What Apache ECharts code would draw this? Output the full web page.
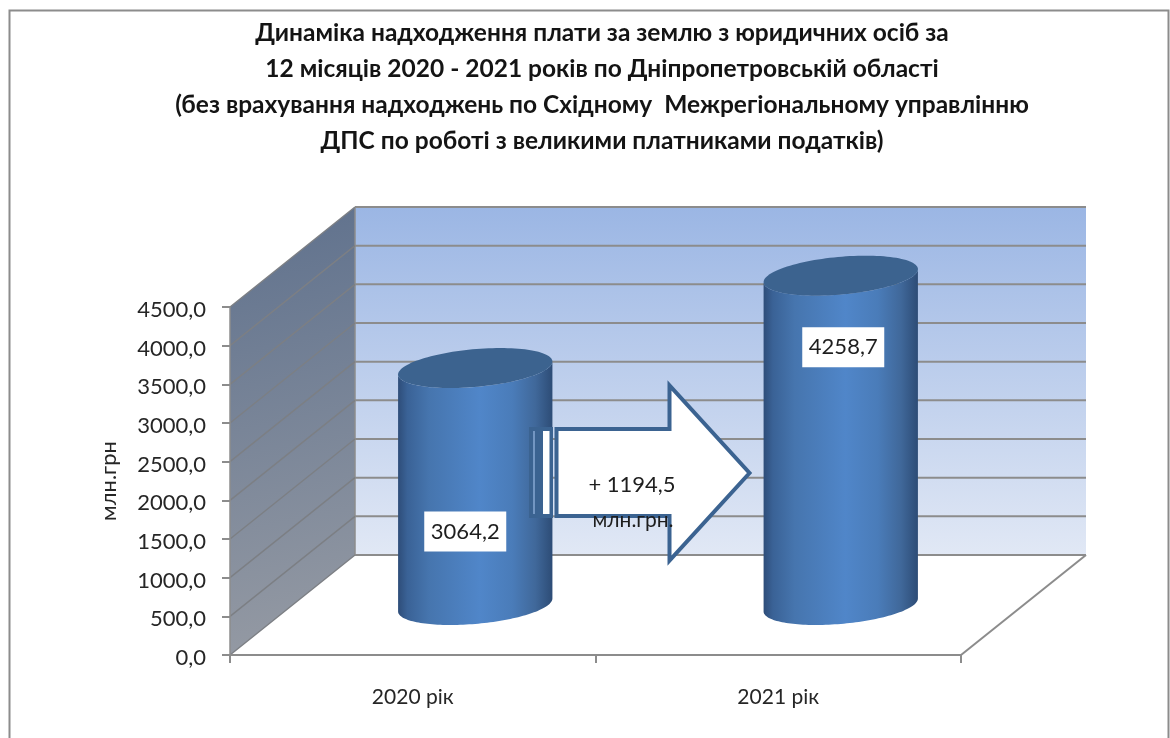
<!DOCTYPE html>
<html><head><meta charset="utf-8">
<style>html,body{margin:0;padding:0;background:#fff}#c{width:1170px;height:738px}</style>
<script src="https://cdn.jsdelivr.net/npm/echarts@6/dist/echarts.min.js"></script>
</head><body><div id="c"></div>
<script>
const categories = ['2020 рік', '2021 рік'];
const values = [3064.2, 4258.7];
const yTicks = [0, 500, 1000, 1500, 2000, 2500, 3000, 3500, 4000, 4500];
const titleLines = [
  'Динаміка надходження плати за землю з юридичних осіб за',
  '12 місяців 2020 - 2021 років по Дніпропетровській області',
  '(без врахування надходжень по Східному  Межрегіональному управлінню',
  'ДПС по роботі з великими платниками податків)'
];
const deltaLines = ['+ 1194,5', 'млн.грн.'];
const yName = 'млн.грн';

// layout (3-D projection and decoration)
const DX = 125, DY = -100;         // depth vector of the box
const FILL = 0.2;                  // elliptical depth of the cylinder
const RX = 73;
const labelShift = [[-10, 45], [2.5, -93]];
const fmt = v => v.toFixed(1).replace('.', ',');
const FONT = 'Lato, "Noto Sans", sans-serif';
const GRID = '#8c8c8c';

const chart = echarts.init(document.getElementById('c'), null, {renderer: 'canvas'});

function wallsItem(params, api) {
  const tick = api.value(0);
  const c = api.coord([0, tick]);
  const rect = params.coordSys;
  const x0 = rect.x, x1 = rect.x + rect.width;
  const y0 = rect.y, y1 = rect.y + rect.height;
  const kids = [];
  if (params.dataIndex === 0) {
    kids.push({type: 'polygon', shape: {points: [[x0, y1], [x0 + DX, y1 + DY], [x0 + DX, y0 + DY], [x0, y0]]},
      style: {fill: new echarts.graphic.LinearGradient(0.9, 1, 0.1, 0, [
        {offset: 0, color: '#969ba4'}, {offset: 1, color: '#5f718d'}])}});
    kids.push({type: 'rect', shape: {x: x0 + DX, y: y0 + DY, width: x1 - x0, height: y1 - y0},
      style: {fill: new echarts.graphic.LinearGradient(0, 0, 0, 1, [
        {offset: 0, color: '#9bb6e4'}, {offset: 1, color: '#e1e8f5'}])}});
    kids.push({type: 'polyline', shape: {points: [[x0 + DX, y1 + DY], [x0 + DX, y0 + DY]]},
      style: {stroke: GRID, lineWidth: 1.5, fill: 'none'}});
    kids.push({type: 'polyline', shape: {points: [[x1, y1], [x1 + DX, y1 + DY]]},
      style: {stroke: GRID, lineWidth: 2, fill: 'none'}});
  }
  kids.push({type: 'polyline', shape: {points: [[x0, c[1]], [x0 + DX, c[1] + DY]]},
    style: {stroke: '#7c7f84', lineWidth: 1.5, fill: 'none'}});
  kids.push({type: 'polyline', shape: {points: [[x0 + DX, c[1] + DY], [x1 + DX, c[1] + DY]]},
    style: {stroke: GRID, lineWidth: 2, fill: 'none'}});
  return {type: 'group', children: kids};
}

function ell(cx, cy, a, b, from, to, n) {
  const pts = [];
  for (let i = 0; i <= n; i++) {
    const t = from + (to - from) * i / n;
    pts.push([cx + a * Math.cos(t) + b * DX * Math.sin(t), cy + b * DY * Math.sin(t)]);
  }
  return pts;
}

function cylinderItem(params, api) {
  const cat = api.value(0), val = api.value(1);
  const base = api.coord([cat, 0]), top = api.coord([cat, val]);
  const cx = base[0] + DX / 2;
  const by = base[1] + DY / 2, ty = top[1] + DY / 2;
  const t0 = Math.atan2(FILL * DX, RX);
  const bottomArc = ell(cx, by, RX, FILL, t0, t0 - Math.PI, 80);
  const bodyTop = ell(cx, ty, RX, FILL, t0 - Math.PI, t0, 80);
  const body = bottomArc.concat(bodyTop);
  const side = new echarts.graphic.LinearGradient(0, 0, 1, 0, [
    {offset: 0, color: '#2e4d79'}, {offset: 0.06, color: '#3a6296'}, {offset: 0.2, color: '#4675ae'},
    {offset: 0.53, color: '#5086c9'}, {offset: 0.74, color: '#4a7cb9'}, {offset: 0.89, color: '#40689a'},
    {offset: 1, color: '#2d4c76'}]);
  const s = labelShift[params.dataIndex];
  return {type: 'group', children: [
    {type: 'polygon', shape: {points: body}, style: {fill: side}},
    {type: 'polygon', shape: {points: ell(cx, ty, RX, FILL, 0, Math.PI * 2, 120)}, style: {fill: '#3c638f'}},
    {type: 'rect', z2: 5, shape: {x: cx + s[0] - 41, y: (by + ty) / 2 + s[1] - 20, width: 82, height: 40}, style: {fill: '#fff'}},
    {type: 'text', z2: 6, style: {x: cx + s[0], y: (by + ty) / 2 + s[1], text: fmt(val), align: 'center', verticalAlign: 'middle',
      font: '22px ' + FONT, fill: '#1e1e1e'}}
  ]};
}

const AC = '#3b6391';
chart.setOption({
  animation: false,
  backgroundColor: '#fff',
  grid: {left: 230, right: 209, top: 307, bottom: 83, containLabel: false},
  xAxis: {type: 'category', data: categories, z: 5,
    axisLine: {lineStyle: {color: '#8c8c8c', width: 2}},
    axisTick: {show: true, alignWithLabel: false, length: 8, lineStyle: {color: '#8c8c8c', width: 2}},
    axisLabel: {color: '#262626', fontSize: 21, fontFamily: FONT, margin: 32}},
  yAxis: {type: 'value', min: 0, max: 4500, interval: 500, z: 5,
    name: yName, nameLocation: 'middle', nameGap: 110, nameRotate: 90,
    nameTextStyle: {color: '#262626', fontSize: 22, fontFamily: FONT},
    axisLine: {show: true, lineStyle: {color: '#8c8c8c', width: 1.5}},
    axisTick: {show: true, length: 8, lineStyle: {color: '#8c8c8c', width: 2}},
    splitLine: {show: false},
    axisLabel: {color: '#262626', fontSize: 22, fontFamily: FONT, margin: 24, verticalAlign: 'top', lineHeight: 6, formatter: v => fmt(v)}},
  title: {text: titleLines.join('\n'), left: 597, top: 10, textAlign: 'center',
    textStyle: {fontFamily: FONT, fontWeight: 'bold', fontSize: 24.5, lineHeight: 36, color: '#141414'}},
  series: [
    {type: 'custom', name: 'walls', data: yTicks.map(t => [t]), encode: {y: 0}, renderItem: wallsItem, silent: true, z: 1},
    {type: 'custom', name: 'млн.грн', data: values.map((v, i) => [i, v]), encode: {x: 0, y: 1}, renderItem: cylinderItem, silent: true, z: 2}
  ],
  graphic: [
    {type: 'rect', z: 100, shape: {x: 9.5, y: 10.5, width: 1159, height: 760}, style: {fill: 'none', stroke: '#8c8c8c', lineWidth: 2}},
    {type: 'polygon', z: 100, shape: {points: [[556.5, 429], [669.5, 429], [669.5, 385.5], [749.5, 473], [669.5, 560.5], [669.5, 516], [556.5, 516]]},
      style: {fill: '#fff', stroke: AC, lineWidth: 4, lineJoin: 'miter'}},
    {type: 'rect', z: 100, shape: {x: 531, y: 429, width: 20, height: 87}, style: {fill: AC, stroke: AC, lineWidth: 4}},
    {type: 'rect', z: 101, shape: {x: 543, y: 431, width: 6.5, height: 83}, style: {fill: '#fff'}},
    {type: 'rect', z: 101, shape: {x: 533, y: 431, width: 2, height: 83}, style: {fill: '#7396c2'}},
    {type: 'text', z: 102, style: {x: 632, y: 485, text: deltaLines[0], align: 'center', verticalAlign: 'middle', font: '22px ' + FONT, fill: '#1e1e1e'}},
    {type: 'text', z: 102, style: {x: 633, y: 520, text: deltaLines[1], align: 'center', verticalAlign: 'middle', font: '21px ' + FONT, fill: '#1e1e1e'}}
  ]
});
</script></body></html>
